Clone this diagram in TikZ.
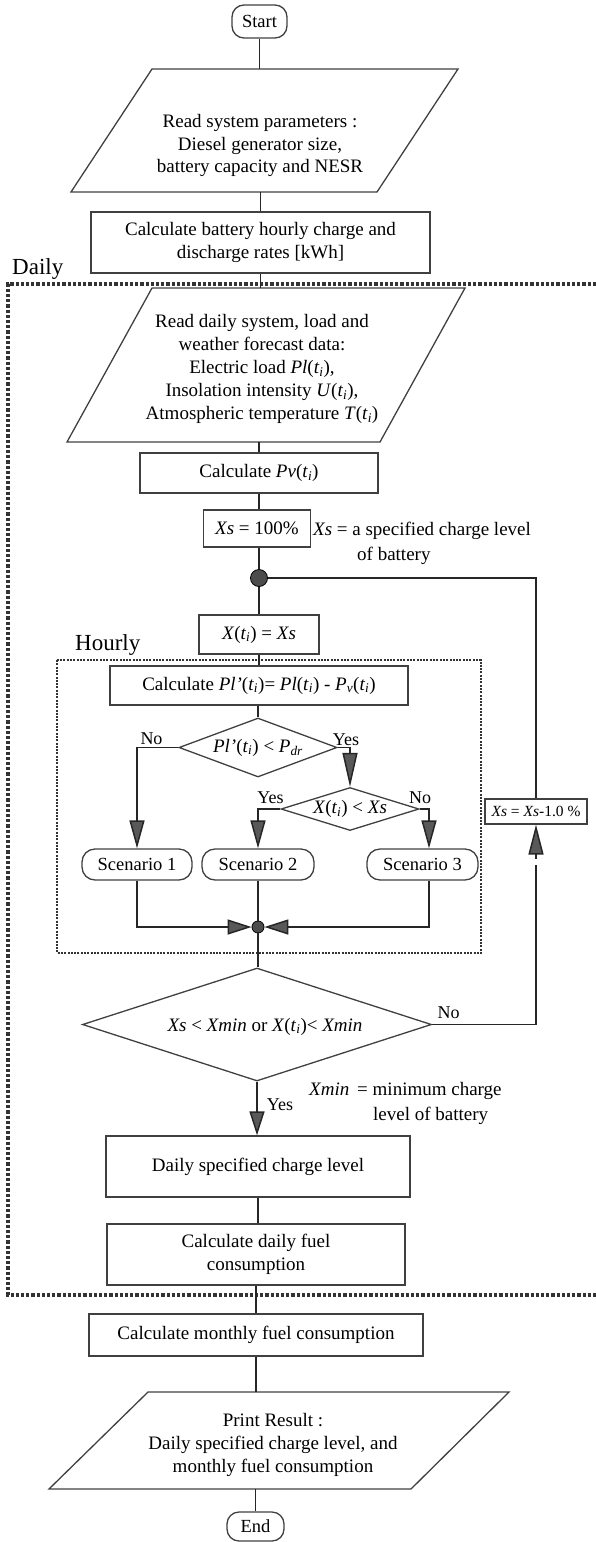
\documentclass[tikz,border=0pt]{standalone}
\usepackage{fontspec}
\setmainfont{Liberation Serif}
\usetikzlibrary{arrows.meta,shapes.geometric,calc}
\newcommand{\tti}{(\textit{t}\textsubscript{\textit{i}})}
\begin{document}
\begin{tikzpicture}[x=1pt,y=-1pt,
  txt/.style={font=\fontsize{19}{22.5}\selectfont, align=center, inner sep=0pt},
  box/.style={txt, draw=black!75, line width=1.3pt},
  term/.style={box, rounded corners=12pt, font=\fontsize{18.5}{22}\selectfont},
  scen/.style={box, rounded corners=13pt, font=\fontsize{18.5}{22}\selectfont},
  shp/.style={draw=black!75, line width=1.3pt, line join=miter},
  dia/.style={diamond, draw=black!75, line width=1.3pt, inner sep=0pt},
  conn/.style={line width=1.5pt, draw=black!85},
  arr/.style={conn, -{Triangle[length=#1,width=15pt,fill=black!65]}},
  arr/.default=28pt,
  lbl/.style={font=\fontsize{18}{20}\selectfont, inner sep=0pt},
  big/.style={font=\fontsize{23}{26}\selectfont, inner sep=0pt},
  note/.style={font=\fontsize{19}{25}\selectfont, inner sep=0pt, align=left},
  dayframe/.style={line width=3.2pt, draw=black!80, dash pattern=on 3.2pt off 2pt},
  hourframe/.style={line width=2pt, draw=black!80, dash pattern=on 2pt off 1.3pt},
  dot/.style={circle, fill=black!70, draw=black, line width=0.8pt, inner sep=0pt}
]
\useasboundingbox (0,0) rectangle (596,1542);

% frames
\draw[dayframe] (596,284) -- (8,284) -- (8,1295) -- (596,1295);
\node[big, anchor=base west] (daily) at (12,274) {Daily};
\draw[hourframe] (57,660) rectangle (481,953);
\node[big, anchor=base west] (hourly) at (75,650) {Hourly};

% nodes
\node[txt, minimum height=123pt, label={[txt, yshift=-15pt]center:Read system parameters :\\Diesel generator size,\\battery capacity and NESR}] (p1) at (260,130.5) {};
\draw[shp] ($(p1.center)+(-108,-61.5)$) -- ($(p1.center)+(198,-61.5)$) -- ($(p1.center)+(117,61.5)$) -- ($(p1.center)+(-189,61.5)$) -- cycle;

\node[term, minimum width=55pt, minimum height=33pt] (start) at (259.5,21.5) {Start};

\node[box, minimum width=339pt, minimum height=61pt] (rates) at (260.5,242.5) {Calculate battery hourly charge and\\discharge rates [kWh]};

\node[txt, minimum height=154pt, label={[txt, font=\fontsize{19}{23.2}\selectfont, yshift=-4pt]center:Read daily system, load and\\weather forecast data:\\Electric load \textit{Pl}\tti,\\Insolation intensity \textit{U}\tti,\\Atmospheric temperature \textit{T}\tti}] (p2) at (262,365) {};
\draw[shp] ($(p2.center)+(-110,-77)$) -- ($(p2.center)+(203,-77)$) -- ($(p2.center)+(118,77)$) -- ($(p2.center)+(-195,77)$) -- cycle;

\node[box, minimum width=238pt, minimum height=40pt] (pv) at (259,473) {Calculate \textit{Pv}\tti};
\node[box, minimum width=107pt, minimum height=37pt] (xs) at (257,528.5) {\textit{Xs} = 100\%};
\node[note, anchor=north west] (xsnote) at (313,522) {\textit{Xs} = a specified charge level\\\hspace*{44pt}of battery};

\node[dot, minimum size=17pt] (j1) at (259,578) {};
\node[box, minimum width=120pt, minimum height=39pt] (xt) at (259,634.5) {\textit{X}\tti{} = \textit{Xs}};
\node[box, minimum width=298pt, minimum height=39pt] (pl) at (259,685.5) {Calculate \textit{Pl'}\tti= \textit{Pl}\tti{} - \textit{P}\textsubscript{\textit{v}}\tti};

\node[dia, minimum width=158pt, minimum height=59pt, label={[txt]center:\textit{Pl'}\tti{} < \textit{P}\textsubscript{\textit{dr}}}] (d1) at (258,747.5) {};
\node[dia, minimum width=138pt, minimum height=43pt, label={[txt]center:\textit{X}\tti{} < \textit{Xs}}] (d2) at (350,809) {};

\node[scen, minimum width=110pt, minimum height=31pt] (s1) at (137,864.5) {Scenario 1};
\node[scen, minimum width=112pt, minimum height=31pt] (s2) at (258,864.5) {Scenario 2};
\node[scen, minimum width=111pt, minimum height=31pt] (s3) at (422.5,864.5) {Scenario 3};

\node[dot, minimum size=12pt] (j2) at (258,927) {};

\node[dia, minimum width=349pt, minimum height=113pt, label={[txt, xshift=8pt, yshift=-2pt]center:\textit{Xs} < \textit{Xmin} or \textit{X}\tti< \textit{Xmin}}] (d3) at (257,1024.5) {};

\node[box, minimum width=102pt, minimum height=25pt, font=\fontsize{15.5}{18}\selectfont] (dec) at (536,811.5) {\textit{Xs} = \textit{Xs}-1.0 \%};

\node[note, anchor=north west] (xminnote) at (309,1082) {\textit{Xmin} \,= minimum charge\\\hspace*{64pt}level of battery};

\node[box, minimum width=304pt, minimum height=61pt] (ds) at (258,1166.5) {Daily specified charge level};
\node[box, minimum width=298pt, minimum height=61pt] (df) at (256,1254.5) {Calculate daily fuel\\consumption};
\node[box, minimum width=334pt, minimum height=42pt] (mf) at (256,1335) {Calculate monthly fuel consumption};

\node[txt, minimum height=97pt, label={[txt, font=\fontsize{19}{23}\selectfont, yshift=-4pt]center:Print Result :\\Daily specified charge level, and\\monthly fuel consumption}] (p3) at (273,1440.5) {};
\draw[shp] ($(p3.center)+(-125,-48.5)$) -- ($(p3.center)+(236,-48.5)$) -- ($(p3.center)+(138,48.5)$) -- ($(p3.center)+(-224,48.5)$) -- cycle;

\node[term, minimum width=57pt, minimum height=29pt] (end) at (255.5,1526.5) {End};

% connectors
\draw[conn] (start.south) -- (start.south |- p1.north);
\draw[conn] (rates.north |- p1.south) -- (rates.north);
\draw[conn] (rates.south) -- (rates.south |- p2.north);
\draw[conn] (pv.north |- p2.south) -- (pv.north);
\draw[conn] (pv.south) -- (pv.south |- xs.north);
\draw[conn] (xs.south -| j1.north) -- (j1.north);
\draw[conn] (j1.south) -- (j1.south |- xt.north);
\draw[conn] (xt.south) -- (xt.south |- pl.north);
\draw[conn] (pl.south -| d1.north) -- (d1.north);

\draw[conn] (d1.west) -| ([yshift=20pt]s1.north);
\draw[arr] ([yshift=30pt]s1.north) -- (s1.north);
\draw[conn] (d1.east) -| ([yshift=36pt]d2.north);
\draw[arr=34pt] ([yshift=40pt]d2.north) -- (d2.north);
\draw[conn] (d2.west) -| ([yshift=20pt]s2.north);
\draw[arr] ([yshift=30pt]s2.north) -- (s2.north);
\draw[conn] (d2.east) -| ([xshift=6.5pt,yshift=20pt]s3.north);
\draw[arr] ([xshift=6.5pt,yshift=30pt]s3.north) -- ([xshift=6.5pt]s3.north);

\draw[conn] (s1.south) |- ([xshift=-30pt]j2.west);
\draw[arr=24pt] ([xshift=-32pt]j2.west) -- (j2.west);
\draw[conn] ([xshift=6.5pt]s3.south) |- ([xshift=30pt]j2.east);
\draw[arr=24pt] ([xshift=32pt]j2.east) -- (j2.east);
\draw[conn] (s2.south) -- (j2.north);
\draw[conn] (j2.south) -- (j2.south |- d3.north);

\draw[arr=24pt] (d3.south) -- (d3.south |- ds.north);
\draw[conn] (d3.east) -| ([yshift=-40pt]dec.south);
\draw[arr=30pt] ([yshift=-34pt]dec.south) -- (dec.south);
\draw[conn] (dec.north) |- (j1.east);

\draw[conn] (ds.south) -- (ds.south |- df.north);
\draw[conn] (df.south) -- (df.south |- mf.north);
\draw[conn] (mf.south) -- (mf.south |- p3.north);
\draw[conn] (end.north |- p3.south) -- (end.north);

% labels
\node[lbl] (no1) at (151.5,739) {No};
\node[lbl] (yes1) at (346,740) {Yes};
\node[lbl] (yes2) at (270.5,798) {Yes};
\node[lbl] (no2) at (420,798) {No};
\node[lbl] (no3) at (448.5,1013) {No};
\node[lbl] (yes3) at (280,1105) {Yes};
\end{tikzpicture}
\end{document}
